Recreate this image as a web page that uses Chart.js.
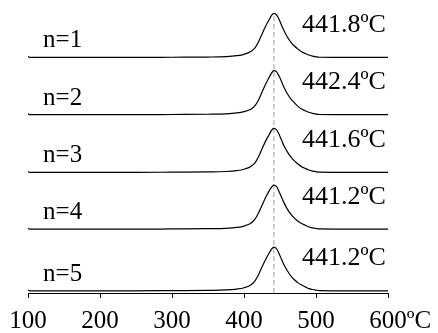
<!DOCTYPE html>
<html>
<head>
<meta charset="utf-8">
<script src="https://cdn.jsdelivr.net/npm/chart.js@4/dist/chart.umd.min.js"></script>
<style>
  html, body { margin: 0; padding: 0; background: #fff; }
  canvas { display: block; }
</style>
</head>
<body>
<canvas id="myChart" width="438" height="333"></canvas>
<script>
// temperature axis (ºC) shared by all runs
const temps = [100, 102, 150, 200, 250, 300, 350, 375, 390, 400,
  410, 415, 420, 425, 430, 435, 438, 441.5, 445, 448,
  452, 455, 460, 465, 470, 475, 480, 485, 490, 495,
  500, 505, 550, 600];

// normalised signal
const run1 = [0.03, 0, 0, 0, 0, 0.005, 0.01, 0.02, 0.04, 0.07,
  0.14, 0.21, 0.35, 0.53, 0.71, 0.86, 0.95, 1.0, 0.97, 0.89,
  0.74, 0.63, 0.47, 0.35, 0.26, 0.19, 0.13, 0.09, 0.055, 0.03,
  0.015, 0.005, 0, 0];
const run2 = [0.03, 0, 0, 0, 0, 0.005, 0.01, 0.02, 0.04, 0.07,
  0.13, 0.2, 0.33, 0.51, 0.69, 0.85, 0.94, 1.0, 0.98, 0.9,
  0.76, 0.64, 0.48, 0.36, 0.27, 0.19, 0.13, 0.09, 0.055, 0.03,
  0.015, 0.005, 0, 0];
const run3 = [0.02, 0, 0, 0, 0, 0.005, 0.01, 0.02, 0.04, 0.07,
  0.14, 0.21, 0.35, 0.53, 0.71, 0.86, 0.95, 1.0, 0.97, 0.89,
  0.74, 0.62, 0.47, 0.35, 0.26, 0.19, 0.13, 0.09, 0.055, 0.03,
  0.015, 0.005, 0, 0];
const run4 = [0.02, 0, 0, 0, 0, 0.005, 0.01, 0.02, 0.04, 0.07,
  0.14, 0.22, 0.36, 0.54, 0.72, 0.87, 0.95, 1.0, 0.97, 0.88,
  0.73, 0.62, 0.46, 0.34, 0.25, 0.18, 0.13, 0.09, 0.05, 0.03,
  0.015, 0.005, 0, 0];
const run5 = [0.02, 0, 0, 0, 0, 0.005, 0.01, 0.02, 0.04, 0.07,
  0.14, 0.22, 0.36, 0.54, 0.71, 0.86, 0.94, 0.99, 0.96, 0.87,
  0.72, 0.61, 0.46, 0.34, 0.25, 0.18, 0.13, 0.09, 0.05, 0.03,
  0.015, 0.005, 0, 0];

const runs = [run1, run2, run3, run4, run5];
const runLabels = ['n=1', 'n=2', 'n=3', 'n=4', 'n=5'];
const peakLabels = ['441.8ºC', '442.4ºC', '441.6ºC', '441.2ºC', '441.2ºC'];
// vertical offset of each stacked curve
const offsets = [5.35, 4.05, 2.74, 1.45, 0.05];
const peakLine = 441.5;
const xTicks = [100, 200, 300, 400, 500, 600];

const serif = '"Liberation Serif", "Times New Roman", serif';
const tickSize = 25;

var datasets = runs.map(function(vals, k){
  return {
    data: vals.map(function(v, i){ return {x: temps[i], y: offsets[k] + v}; }),
    borderColor: '#000',
    borderWidth: 1.2,
    pointRadius: 0,
    cubicInterpolationMode: 'monotone',
    fill: false
  };
});
datasets.push({
  data: [{x: peakLine, y: 0}, {x: peakLine, y: offsets[0] + 0.98}],
  borderColor: '#a0a0a0',
  borderWidth: 1,
  borderDash: [5, 3],
  pointRadius: 0
});

const textPlugin = {
  id: 'textPlugin',
  afterDraw(chart){
    const ctx = chart.ctx;
    const xs = chart.scales.x, ys = chart.scales.y;
    ctx.save();
    ctx.fillStyle = '#000';
    ctx.textAlign = 'left';
    ctx.textBaseline = 'alphabetic';
    for(var k = 0; k < runs.length; k++){
      let base = ys.getPixelForValue(offsets[k]);
      ctx.font = '25px ' + serif;
      ctx.fillText(runLabels[k], xs.getPixelForValue(121), base - 10);
      ctx.font = '26px ' + serif;
      ctx.fillText(peakLabels[k], xs.getPixelForValue(480.5), base - 25.5);
    }
    // unit after the last tick label, same line as the tick labels
    ctx.font = tickSize + 'px ' + serif;
    ctx.textBaseline = 'middle';
    let w = ctx.measureText('600').width;
    ctx.fillText('ºC', xs.getPixelForValue(600) + w / 2, xs.top + 5 + 8 + tickSize * 1.2 / 2);
    ctx.restore();
  }
};

new Chart('myChart', {
  type: 'line',
  data: { datasets: datasets },
  options: {
    responsive: false,
    animation: false,
    layout: { padding: { left: 28, right: 50, top: 13, bottom: 0 } },
    plugins: { legend: { display: false }, tooltip: { enabled: false } },
    scales: {
      x: {
        type: 'linear',
        min: 100,
        max: 600,
        afterFit: function(scale){ scale.height = 40; },
        afterBuildTicks: function(scale){ scale.ticks = xTicks.map(function(v){ return {value: v}; }); },
        grid: { drawOnChartArea: false, drawTicks: true, tickLength: 5, color: '#000' },
        border: { display: true, color: '#000', width: 1 },
        ticks: { color: '#000', padding: 8, maxRotation: 0, font: { family: serif, size: tickSize } }
      },
      y: { display: false, min: 0, max: 6.36 }
    }
  },
  plugins: [textPlugin]
});
</script>
</body>
</html>
